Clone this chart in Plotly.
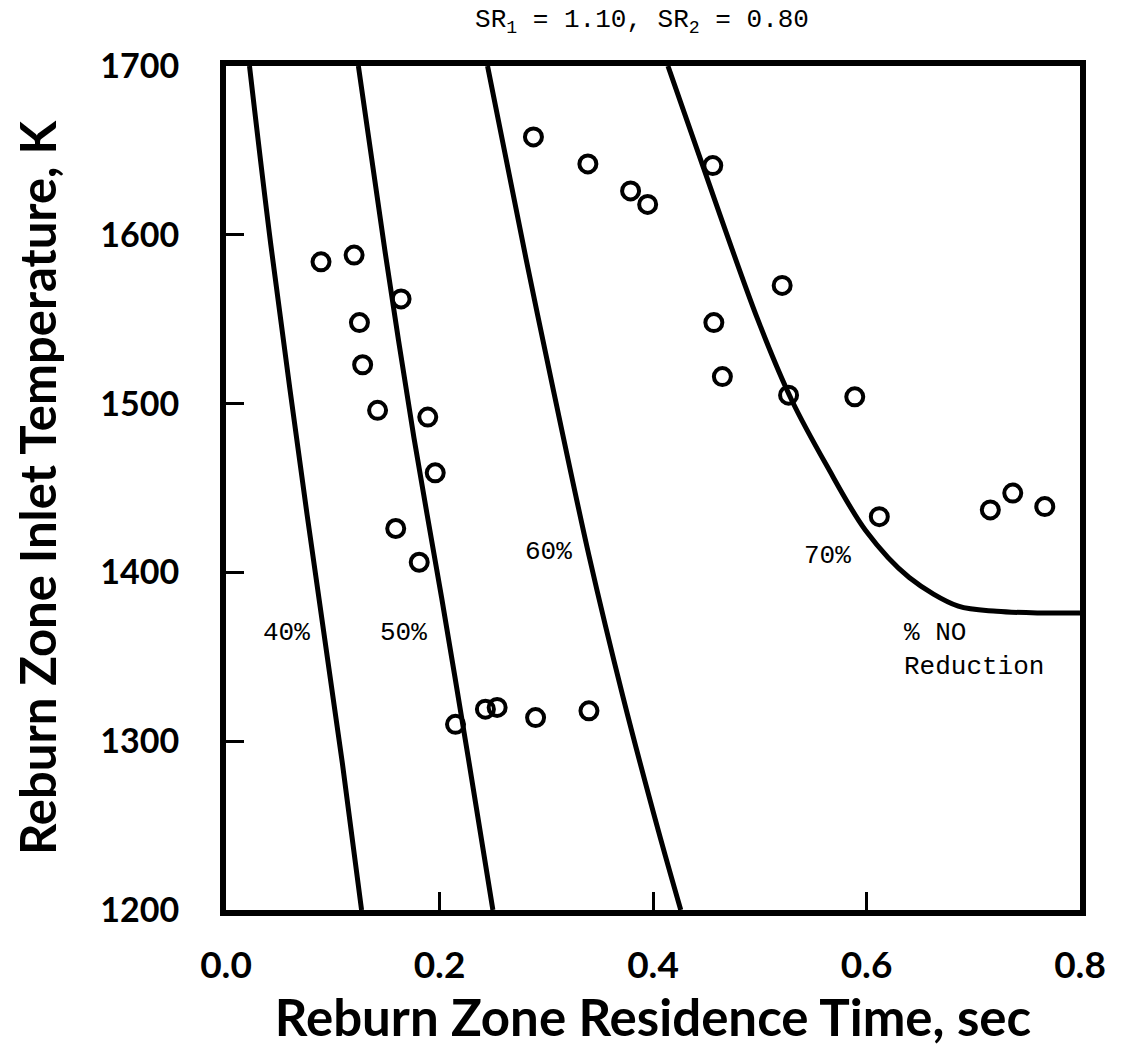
import plotly.graph_objects as go

# ---- data ----
pts_x = [0.089, 0.120, 0.164, 0.125, 0.128, 0.142, 0.189, 0.196, 0.159, 0.181,
         0.215, 0.243, 0.254, 0.290, 0.340,
         0.288, 0.339, 0.379, 0.395, 0.456, 0.521, 0.457, 0.465, 0.527, 0.589,
         0.612, 0.716, 0.737, 0.767]
pts_y = [1584, 1588, 1562, 1548, 1523, 1496, 1492, 1459, 1426, 1406,
         1310, 1319, 1320, 1314, 1318,
         1658, 1642, 1626, 1618, 1641, 1570, 1548, 1516, 1505, 1504,
         1433, 1437, 1447, 1439]

c40_x = [0.022, 0.042, 0.076, 0.109, 0.127]
c40_y = [1700, 1594, 1434, 1287, 1200]
c50_x = [0.124, 0.149, 0.176, 0.202, 0.227, 0.250]
c50_y = [1700, 1590, 1480, 1385, 1290, 1200]
c60_x = [0.245, 0.281, 0.307, 0.340, 0.372, 0.405, 0.426]
c60_y = [1700, 1586, 1507, 1410, 1326, 1247, 1200]
c70_x = [0.414, 0.446, 0.498, 0.530, 0.563, 0.599, 0.640, 0.686, 0.722, 0.760, 0.800]
c70_y = [1700, 1642, 1550, 1502, 1463, 1425, 1397, 1380, 1377, 1376, 1376]

curve_labels = ["40%", "50%", "60%", "70%", "% NO<br>Reduction"]
label_x = [0.057, 0.166, 0.302, 0.563, 0.633]
label_y = [1364, 1364, 1412, 1410, 1354]

x_ticks = [0.0, 0.2, 0.4, 0.6, 0.8]
x_ticktext = ["0.0", "0.2", "0.4", "0.6", "0.8"]
y_ticks = [1200, 1300, 1400, 1500, 1600, 1700]
y_ticktext = ["1200", "1300", "1400", "1500", "1600", "1700"]

title_text = "SR<sub>1</sub> = 1.10, SR<sub>2</sub> = 0.80"
x_title = "Reburn Zone Residence Time, sec"
y_title = "Reburn Zone Inlet Temperature, K"

# ---- figure ----
fig = go.Figure()
for cx, cy in [(c40_x, c40_y), (c50_x, c50_y), (c60_x, c60_y), (c70_x, c70_y)]:
    fig.add_trace(go.Scatter(x=cx, y=cy, mode="lines",
                             line=dict(color="black", width=5, shape="spline", smoothing=0.9),
                             showlegend=False, hoverinfo="skip"))

fig.add_trace(go.Scatter(x=pts_x, y=pts_y, mode="markers",
                         marker=dict(symbol="circle-open", size=17, color="black",
                                     line=dict(width=4, color="black")),
                         showlegend=False))

mono = "Liberation Mono, Courier New, monospace"
for t, lx, ly in zip(curve_labels, label_x, label_y):
    fig.add_annotation(x=lx, y=ly, text=t, showarrow=False,
                       xanchor="left" if "<br>" in t else "center", yanchor="middle",
                       align="left",
                       font=dict(family=mono, size=26, color="black"))

sans = "Lato, Noto Sans, sans-serif"
fig.update_xaxes(range=[0, 0.8], tickvals=x_ticks, ticktext=x_ticktext,
                 showgrid=False, zeroline=False,
                 showline=True, linewidth=6, linecolor="black", mirror=True,
                 ticks="inside", ticklen=18, tickwidth=3, tickcolor="black",
                 ticklabelstandoff=18,
                 tickfont=dict(family=sans, size=37, color="black", weight="bold"),
                 title=dict(text=x_title, standoff=2,
                            font=dict(family=sans, size=51, color="black", weight="bold")))
fig.update_yaxes(range=[1200, 1700], tickvals=y_ticks, ticktext=y_ticktext,
                 showgrid=False, zeroline=False,
                 showline=True, linewidth=6, linecolor="black", mirror=True,
                 ticks="inside", ticklen=18, tickwidth=3, tickcolor="black",
                 ticklabelstandoff=34,
                 tickfont=dict(family=sans, size=34, color="black", weight="bold"),
                 title=dict(text=y_title, standoff=30,
                            font=dict(family=sans, size=49, color="black", weight="bold")))

fig.update_layout(width=1139, height=1047, autosize=False,
                  margin=dict(l=226, r=59, t=66, b=137),
                  paper_bgcolor="white", plot_bgcolor="white",
                  title=dict(text=title_text, x=642 / 1139, xanchor="center",
                             y=1 - 18 / 1047, yanchor="middle",
                             font=dict(family=mono, size=26, color="black")))

fig.write_html("out.html")
